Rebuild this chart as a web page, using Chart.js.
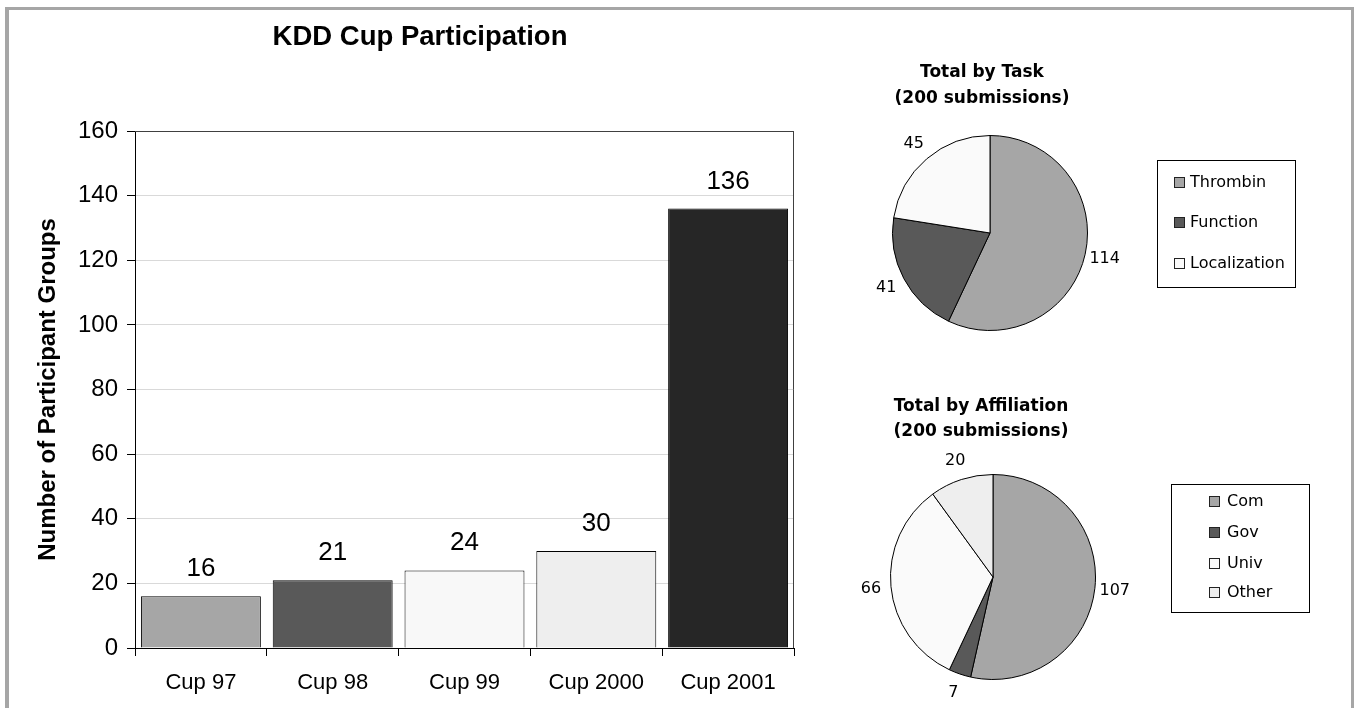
<!DOCTYPE html>
<html>
<head>
<meta charset="utf-8">
<script src="https://cdn.jsdelivr.net/npm/chart.js@4.4.1/dist/chart.umd.min.js"></script>
<style>
  body { margin: 0; background: #fff; width: 1354px; height: 708px; overflow: hidden; position: relative; }
  canvas { position: absolute; }
  .frame { position: absolute; background: #a6a6a6; z-index: 5; }
</style>
</head>
<body>
<div class="frame" style="left:5px;top:7px;width:4px;height:701px"></div>
<div class="frame" style="left:5px;top:7px;width:1349px;height:3px"></div>
<div class="frame" style="left:1351px;top:7px;width:3px;height:701px"></div>

<canvas id="bar" width="840" height="708" style="left:0;top:0"></canvas>
<canvas id="pieTask" width="494" height="300" style="left:860px;top:40px"></canvas>
<canvas id="pieAff" width="504" height="328" style="left:850px;top:380px"></canvas>

<script>
// bar chart data
var cups = ['Cup 97', 'Cup 98', 'Cup 99', 'Cup 2000', 'Cup 2001'];
var groups = [16, 21, 24, 30, 136];
var cupColors = ['#a6a6a6', '#595959', '#f8f8f8', '#eeeeee', '#262626'];
var yMax = 160, yStep = 20;

// pie: by task
var tasks = ['Thrombin', 'Function', 'Localization'];
var taskCounts = [114, 41, 45];
var taskColors = ['#a6a6a6', '#595959', '#fafafa'];

// pie: by affiliation
var affils = ['Com', 'Gov', 'Univ', 'Other'];
var affilCounts = [107, 7, 66, 20];
var affilColors = ['#a6a6a6', '#595959', '#fafafa', '#eeeeee'];

var ARIAL = '"Liberation Sans", Arial, sans-serif';
var VERD = '"DejaVu Sans", Verdana, sans-serif';

// value labels, plot frame and title for the bar chart
var barExtras = {
  id: 'barExtras',
  afterDatasetsDraw: function(chart, args, opts) {
    var ctx = chart.ctx;
    var meta = chart.getDatasetMeta(0);
    ctx.save();
    ctx.fillStyle = '#000';
    ctx.font = '26px ' + ARIAL;
    ctx.textAlign = 'center';
    ctx.textBaseline = 'alphabetic';
    meta.data.forEach(function(bar, i) {
      ctx.fillText(String(groups[i]), bar.x, bar.y - 20);
    });
    ctx.restore();
  },
  afterDraw: function(chart, args, opts) {
    var ctx = chart.ctx, a = chart.chartArea;
    ctx.save();
    ctx.strokeStyle = '#404040';
    ctx.lineWidth = 1;
    ctx.beginPath();
    ctx.moveTo(a.left, a.top + 0.5);
    ctx.lineTo(a.right - 0.5, a.top + 0.5);
    ctx.lineTo(a.right - 0.5, a.bottom);
    ctx.stroke();
    ctx.fillStyle = '#000';
    ctx.font = 'bold 27.5px ' + ARIAL;
    ctx.textAlign = 'center';
    ctx.textBaseline = 'middle';
    ctx.fillText(opts.text, opts.x, opts.y);
    ctx.restore();
  }
};

// titles, outside labels and boxed legend for the pies
var pieExtras = {
  id: 'pieExtras',
  afterDraw: function(chart, args, opts) {
    var ctx = chart.ctx;
    var ds = chart.data.datasets[0];
    var meta = chart.getDatasetMeta(0);
    ctx.save();
    ctx.fillStyle = '#000';
    ctx.textAlign = 'center';
    ctx.textBaseline = 'middle';
    ctx.font = 'bold 17px ' + VERD;
    opts.title.forEach(function(t, i) {
      ctx.fillText(t, opts.titleX, opts.titleY[i]);
    });

    ctx.font = '16px ' + VERD;
    meta.data.forEach(function(arc, i) {
      var mid = (arc.startAngle + arc.endAngle) / 2;
      var r = arc.outerRadius + 20;
      ctx.fillText(String(ds.data[i]), arc.x + Math.cos(mid) * r, arc.y + Math.sin(mid) * r);
    });

    var b = opts.box;
    ctx.strokeStyle = '#000';
    ctx.lineWidth = 1;
    ctx.strokeRect(b.x + 0.5, b.y + 0.5, b.w, b.h);
    ctx.textAlign = 'left';
    chart.data.labels.forEach(function(lab, i) {
      var y = opts.rows[i];
      ctx.fillStyle = ds.backgroundColor[i];
      ctx.fillRect(opts.swatchX, y - 5, 11, 11);
      ctx.strokeStyle = '#222';
      ctx.strokeRect(opts.swatchX + 0.5, y - 4.5, 10, 10);
      ctx.fillStyle = '#000';
      ctx.fillText(lab, opts.textX, y + 1);
    });
    ctx.restore();
  }
};

new Chart(document.getElementById('bar'), {
  type: 'bar',
  data: {
    labels: cups,
    datasets: [{
      data: groups,
      backgroundColor: cupColors,
      borderColor: '#000',
      borderWidth: 1,
      borderSkipped: 'bottom',
      barPercentage: 0.91,
      categoryPercentage: 1
    }]
  },
  options: {
    responsive: false,
    animation: false,
    layout: { padding: { left: 0, right: 46, top: 131, bottom: 0 } },
    plugins: {
      legend: { display: false },
      tooltip: { enabled: false },
      barExtras: { text: 'KDD Cup Participation', x: 420, y: 37 }
    },
    scales: {
      x: {
        offset: true,
        grid: { display: true, drawOnChartArea: false, offset: true, tickLength: 8, tickColor: '#000' },
        border: { color: '#000' },
        ticks: { color: '#000', font: { family: ARIAL, size: 22 }, padding: 14, maxRotation: 0 },
        afterFit: function(s) { s.height = 60; }
      },
      y: {
        min: 0, max: yMax,
        ticks: { stepSize: yStep, color: '#000', font: { family: ARIAL, size: 24 }, padding: 9 },
        grid: {
          color: function(c) { return c.tick && c.tick.value === yMax ? '#404040' : '#d9d9d9'; },
          tickColor: '#000', tickLength: 8
        },
        border: { color: '#000' },
        title: {
          display: true, text: 'Number of Participant Groups', color: '#000',
          font: { family: ARIAL, size: 24, weight: 'bold' }, padding: { top: 34, bottom: 0 }
        },
        afterFit: function(s) { s.width = 135; }
      }
    }
  },
  plugins: [barExtras]
});

function pieConfig(labels, data, colors, pad, extras) {
  return {
    type: 'pie',
    data: {
      labels: labels,
      datasets: [{ data: data, backgroundColor: colors, borderColor: '#000', borderWidth: 1 }]
    },
    options: {
      responsive: false,
      animation: false,
      layout: { padding: pad },
      plugins: { legend: { display: false }, tooltip: { enabled: false }, pieExtras: extras }
    },
    plugins: [pieExtras]
  };
}

new Chart(document.getElementById('pieTask'), pieConfig(tasks, taskCounts, taskColors,
  { left: 32, right: 266, top: 95, bottom: 9 },
  {
    title: ['Total by Task', '(200 submissions)'], titleX: 122, titleY: [33, 59],
    box: { x: 297, y: 120, w: 138, h: 127 }, swatchX: 314, textX: 330, rows: [142, 182, 223]
  }));

new Chart(document.getElementById('pieAff'), pieConfig(affils, affilCounts, affilColors,
  { left: 40, right: 258, top: 94, bottom: 28 },
  {
    title: ['Total by Affiliation', '(200 submissions)'], titleX: 131, titleY: [27, 52],
    box: { x: 321, y: 104, w: 138, h: 128 }, swatchX: 359, textX: 377, rows: [121, 152, 183, 212]
  }));
</script>
</body>
</html>
